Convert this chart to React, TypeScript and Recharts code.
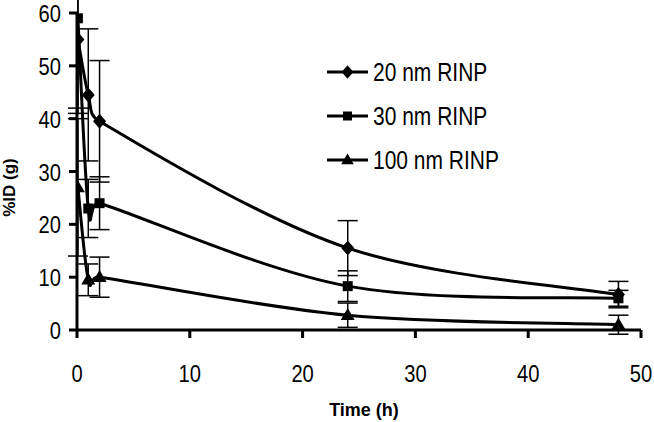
import { LineChart, Line, XAxis, YAxis, ErrorBar } from 'recharts'

const times = [0.08, 1, 2, 24, 48]
const rinp20 = [55, 44.5, 39.5, 15.5, 6.7]
const err20 = [14, 12.5, 11.5, 5.2, 2.5]
const rinp30 = [59, 23, 24, 8.3, 6]
const err30 = [17, 5.5, 5, 2.9, 1.5]
const rinp100 = [27, 9.5, 10, 2.8, 1]
const err100 = [13, 3, 3.8, 2.3, 1.8]

const xTicks = [0, 10, 20, 30, 40, 50]
const yTicks = [0, 10, 20, 30, 40, 50, 60]

const seriesNames = ['20 nm RINP', '30 nm RINP', '100 nm RINP']
const shapes = ['diamond', 'square', 'triangle']

const data = times.map((t, i) => ({
  t,
  a: rinp20[i], ea: err20[i],
  b: rinp30[i], eb: err30[i],
  c: rinp100[i], ec: err100[i],
}))

const FONT = '"Liberation Sans", Arial, sans-serif'
const SQUEEZE = 0.84

// spreadsheet-style smoothed line (catmull-rom, control x kept inside each segment)
const smoothCurve = (context: any) => {
  let pts: number[][] = []
  return {
    areaStart() {},
    areaEnd() {},
    lineStart() { pts = [] },
    point(x: number, y: number) { pts.push([+x, +y]) },
    lineEnd() {
      const n = pts.length
      if (!n) return
      context.moveTo(pts[0][0], pts[0][1])
      for (let i = 0; i < n - 1; i++) {
        const p0 = pts[Math.max(i - 1, 0)], p1 = pts[i], p2 = pts[i + 1], p3 = pts[Math.min(i + 2, n - 1)]
        const span = p2[0] - p1[0]
        let ax = (p2[0] - p0[0]) / 6, ay = (p2[1] - p0[1]) / 6
        let bx = (p3[0] - p1[0]) / 6, by = (p3[1] - p1[1]) / 6
        if (ax > span) { const k = span / ax; ax *= k; ay *= k }
        if (bx > span) { const k = span / bx; bx *= k; by *= k }
        context.bezierCurveTo(p1[0] + ax, p1[1] + ay, p2[0] - bx, p2[1] - by, p2[0], p2[1])
      }
    },
  }
}

function Marker({ shape, cx, cy, s = 1 }: { shape: string; cx: number; cy: number; s?: number }) {
  if (shape === 'diamond') {
    const w = 6.5 * s, h = 7.5 * s
    return <path d={`M${cx},${cy - h}L${cx + w},${cy}L${cx},${cy + h}L${cx - w},${cy}Z`} fill="#000" />
  }
  if (shape === 'square') {
    const r = 5 * s
    return <rect x={cx - r} y={cy - r} width={2 * r} height={2 * r} fill="#000" />
  }
  const w = 7 * s, h = 12 * s
  return <path d={`M${cx},${cy - h * 0.6}L${cx + w},${cy + h * 0.4}L${cx - w},${cy + h * 0.4}Z`} fill="#000" />
}

const dotFor = (shape: string) => (p: any) => {
  if (p.cx == null || p.cy == null) return <g key={p.index} />
  return <Marker key={`${shape}-${p.index}`} shape={shape} cx={p.cx} cy={p.cy} />
}

const XTick = (p: any) => (
  <g transform={`translate(${p.x},${p.y})`}>
    <text transform={`scale(${SQUEEZE},1)`} textAnchor="middle" dy="0.71em" fontSize={24} fontFamily={FONT} fill="#000">
      {p.payload.value}
    </text>
  </g>
)

const YTick = (p: any) => (
  <g transform={`translate(${p.x},${p.y})`}>
    <text transform={`scale(${SQUEEZE},1)`} textAnchor="end" dy="0.38em" fontSize={24} fontFamily={FONT} fill="#000">
      {p.payload.value}
    </text>
  </g>
)

const LegendBox = () => (
  <svg width={200} height={130} style={{ position: 'absolute', left: 327, top: 50 }}>
    {seriesNames.map((name, i) => {
      const y = 22 + i * 44
      return (
        <g key={name}>
          <line x1={0} x2={41} y1={y} y2={y} stroke="#000" strokeWidth={3} />
          <Marker shape={shapes[i]} cx={20.5} cy={y} s={0.9} />
          <g transform={`translate(46,${y})`}>
            <text transform="scale(0.84,1)" dy="0.36em" fontSize={25} fontFamily={FONT} fill="#000">
              {name}
            </text>
          </g>
        </g>
      )
    })}
  </svg>
)

export default function App() {
  const keys = ['a', 'b', 'c']
  return (
    <div style={{ position: 'absolute', left: 0, top: 0, width: 654, height: 422, background: '#fff' }}>
      <LineChart width={654} height={422} data={data} margin={{ top: 13, right: 13, bottom: 0, left: 0 }}>
        <XAxis
          dataKey="t"
          type="number"
          domain={[0, 50]}
          ticks={xTicks}
          allowDataOverflow
          axisLine={{ stroke: '#000', strokeWidth: 3 }}
          tickLine={{ stroke: '#000', strokeWidth: 3 }}
          tickSize={8}
          tickMargin={27}
          height={92}
          tick={<XTick />}
          label={{
            value: 'Time (h)',
            position: 'insideBottom',
            offset: 6,
            dx: 5,
            style: { fontSize: 18, fontWeight: 700, fontFamily: FONT, fill: '#000' },
          }}
        />
        <YAxis
          type="number"
          domain={[0, 60]}
          ticks={yTicks}
          allowDataOverflow
          width={77}
          axisLine={{ stroke: '#000', strokeWidth: 3 }}
          tickLine={{ stroke: '#000', strokeWidth: 3 }}
          tickSize={8}
          tickMargin={8}
          tick={<YTick />}
          label={{
            content: ({ viewBox }: any) => (
              <text
                transform={`translate(${viewBox.x + 15},${viewBox.y + viewBox.height / 2 + 16}) rotate(-90)`}
                textAnchor="middle"
                fontSize={17}
                fontWeight={700}
                fontFamily={FONT}
                fill="#000"
              >
                %ID (g)
              </text>
            ),
          }}
        />
        {keys.map((k, i) => (
          <Line
            key={k}
            type={smoothCurve as any}
            dataKey={k}
            name={seriesNames[i]}
            stroke="#000"
            strokeWidth={3}
            dot={dotFor(shapes[i])}
            activeDot={false}
            isAnimationActive={false}
          >
            <ErrorBar dataKey={`e${k}`} direction="y" width={10} stroke="#000" strokeWidth={1.5} />
          </Line>
        ))}
      </LineChart>
      <LegendBox />
    </div>
  )
}
